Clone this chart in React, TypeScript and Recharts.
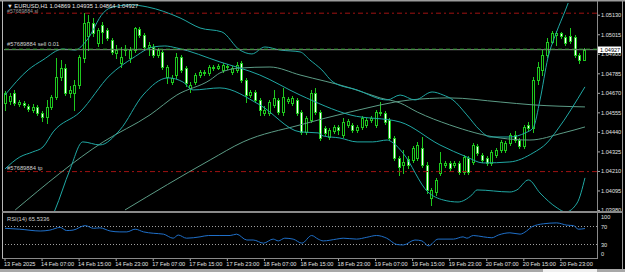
import { ComposedChart, Bar, Line, XAxis, YAxis, ReferenceLine } from "recharts";

// EURUSD H1, bars from 13 Feb 23:00 to 21 Feb 04:00
const opens = [
  1.04613, 1.04625, 1.04672, 1.04607, 1.04613, 1.04596, 1.04572, 1.0459, 1.04554, 1.04531,
  1.0459, 1.04649, 1.04766, 1.04819, 1.04672, 1.04672, 1.04719, 1.04878, 1.05008, 1.05085,
  1.04967, 1.05073, 1.05043, 1.04984, 1.04908, 1.04849, 1.04925, 1.04878, 1.04925, 1.05049,
  1.05014, 1.04943, 1.04943, 1.04896, 1.04914, 1.04766, 1.04737, 1.04778, 1.04884, 1.04819,
  1.04702, 1.04737, 1.04778, 1.04796, 1.0479, 1.04819, 1.04819, 1.04808, 1.04831, 1.04796,
  1.04808, 1.04849, 1.04749, 1.0466, 1.04678, 1.04631, 1.04554, 1.04554, 1.04602, 1.04631,
  1.0456, 1.04625, 1.04613, 1.04631, 1.0456, 1.04443, 1.04513, 1.04672, 1.0456, 1.04466,
  1.04413, 1.04448, 1.04472, 1.04425, 1.04484, 1.04484, 1.04454, 1.04472, 1.04484, 1.04513,
  1.04484, 1.0456, 1.04554, 1.04513, 1.04407, 1.04289, 1.04248, 1.04283, 1.04278, 1.04289,
  1.04348, 1.04248, 1.04054, 1.04089, 1.04201, 1.04248, 1.0426, 1.04248, 1.0426, 1.04207,
  1.04289, 1.04266, 1.0436, 1.04307, 1.04289, 1.0426, 1.04307, 1.04336, 1.04336, 1.04378,
  1.04425, 1.04395, 1.0436, 1.04484, 1.04466, 1.04749, 1.04808, 1.04896, 1.04973, 1.05014,
  1.05026, 1.05002, 1.05008, 1.05002, 1.04896, 1.04869,
];
const highs = [
  1.04684, 1.04672, 1.0469, 1.04631, 1.04625, 1.04607, 1.04607, 1.04602, 1.04566, 1.04631,
  1.0466, 1.04878, 1.04867, 1.04843, 1.04713, 1.04749, 1.04896, 1.05143, 1.05132, 1.05114,
  1.05055, 1.0509, 1.05055, 1.04996, 1.04955, 1.04943, 1.04955, 1.04943, 1.05061, 1.05061,
  1.05026, 1.04973, 1.04961, 1.04937, 1.04925, 1.04837, 1.04778, 1.04908, 1.04896, 1.04831,
  1.04737, 1.0479, 1.04808, 1.04808, 1.04837, 1.04837, 1.04843, 1.04849, 1.04843, 1.04831,
  1.04855, 1.04861, 1.04761, 1.0469, 1.0469, 1.04643, 1.04596, 1.04631, 1.0469, 1.04643,
  1.04702, 1.04649, 1.04655, 1.04643, 1.04572, 1.04537, 1.0469, 1.04702, 1.04572, 1.04478,
  1.04466, 1.04484, 1.04484, 1.04525, 1.04519, 1.04496, 1.04484, 1.04537, 1.04525, 1.04537,
  1.04572, 1.04619, 1.04566, 1.04525, 1.04419, 1.04301, 1.04336, 1.04301, 1.0436, 1.04384,
  1.04413, 1.04266, 1.04113, 1.04172, 1.04325, 1.04272, 1.04272, 1.04272, 1.04272, 1.04307,
  1.04301, 1.04378, 1.04372, 1.04319, 1.04301, 1.04336, 1.04348, 1.04395, 1.0439, 1.04437,
  1.04448, 1.04407, 1.04484, 1.04501, 1.04766, 1.04855, 1.04925, 1.04996, 1.05037, 1.05037,
  1.05032, 1.05014, 1.05055, 1.05014, 1.04908, 1.04935,
];
const lows = [
  1.04572, 1.04607, 1.04602, 1.04596, 1.0459, 1.04566, 1.0456, 1.04543, 1.04507, 1.04496,
  1.04578, 1.04637, 1.04749, 1.0466, 1.04649, 1.04572, 1.04702, 1.04855, 1.04925, 1.05008,
  1.04949, 1.04967, 1.04984, 1.04902, 1.04878, 1.04825, 1.04896, 1.04855, 1.04914, 1.05002,
  1.04931, 1.04896, 1.04884, 1.04884, 1.04814, 1.04731, 1.04725, 1.04761, 1.04796, 1.04713,
  1.04678, 1.04725, 1.04766, 1.04778, 1.04778, 1.04808, 1.04814, 1.04796, 1.04814, 1.04784,
  1.04796, 1.04737, 1.04619, 1.04649, 1.04619, 1.04543, 1.04543, 1.04543, 1.0459, 1.04549,
  1.04543, 1.04613, 1.04602, 1.04543, 1.04431, 1.04431, 1.04501, 1.04549, 1.04395, 1.04425,
  1.04401, 1.04437, 1.04431, 1.04413, 1.04472, 1.04443, 1.04443, 1.0446, 1.04472, 1.04501,
  1.04472, 1.04543, 1.0449, 1.04395, 1.04278, 1.04189, 1.04201, 1.0423, 1.04266, 1.04278,
  1.04236, 1.04083, 1.04013, 1.04071, 1.04189, 1.04236, 1.04219, 1.04236, 1.04195, 1.04195,
  1.04195, 1.04254, 1.04307, 1.04266, 1.04248, 1.04248, 1.04295, 1.04325, 1.04325, 1.04366,
  1.04384, 1.04348, 1.04348, 1.04454, 1.04443, 1.04725, 1.04778, 1.04884, 1.04967, 1.04955,
  1.04996, 1.04955, 1.04967, 1.04884, 1.04849, 1.04864,
];
const closes = [
  1.04672, 1.04655, 1.04613, 1.04619, 1.04602, 1.04578, 1.0459, 1.04554, 1.04531, 1.0459,
  1.04649, 1.04766, 1.04819, 1.04672, 1.0469, 1.04719, 1.04884, 1.05085, 1.0509, 1.05026,
  1.05043, 1.05032, 1.04996, 1.04914, 1.04925, 1.04884, 1.04931, 1.04925, 1.05055, 1.05014,
  1.04943, 1.04955, 1.04896, 1.04925, 1.04825, 1.04825, 1.04761, 1.04884, 1.04808, 1.04731,
  1.04719, 1.04778, 1.04796, 1.0479, 1.04825, 1.04825, 1.04831, 1.04837, 1.04825, 1.04819,
  1.04837, 1.04749, 1.0466, 1.04678, 1.04631, 1.04572, 1.04572, 1.04619, 1.04643, 1.0456,
  1.04649, 1.04637, 1.04643, 1.04554, 1.04443, 1.04525, 1.04672, 1.0456, 1.04407, 1.04437,
  1.04454, 1.04472, 1.04454, 1.04501, 1.04507, 1.04454, 1.04472, 1.04525, 1.04513, 1.04525,
  1.0456, 1.04554, 1.04501, 1.04407, 1.04289, 1.04236, 1.04266, 1.04248, 1.04348, 1.04366,
  1.04248, 1.04101, 1.04101, 1.0416, 1.0426, 1.0426, 1.0423, 1.0426, 1.04207, 1.04295,
  1.04207, 1.04366, 1.04319, 1.04278, 1.0426, 1.04325, 1.04336, 1.04384, 1.04378, 1.04425,
  1.04395, 1.0436, 1.04472, 1.04466, 1.04749, 1.04825, 1.04896, 1.04973, 1.05026, 1.05026,
  1.05008, 1.04967, 1.04979, 1.04896, 1.04867, 1.04927,
];

// indicator lines: [bar index, value]
const bbUpper = [
  [0, 1.0466], [5, 1.04808], [8.2, 1.04867], [12.5, 1.04931], [15.1, 1.04925], [17.7, 1.04984],
  [21.2, 1.05143], [22.7, 1.05173], [27, 1.05191], [30.7, 1.05179], [37.8, 1.05114], [42.1, 1.05055],
  [46.8, 1.05032], [50.7, 1.04925], [53.3, 1.04902], [56.1, 1.04943], [59.4, 1.04925], [63.7, 1.04914],
  [65.8, 1.04867], [68.4, 1.04808], [70.8, 1.04737], [76, 1.0469], [82.5, 1.04631], [85.3, 1.0466],
  [88.5, 1.04631], [92.2, 1.04678], [94.6, 1.0466], [96.7, 1.04631], [99.7, 1.04543], [102.5, 1.04454],
  [104.7, 1.04413], [109, 1.04413], [112.3, 1.04437], [114, 1.04466], [115.5, 1.04631], [117.2, 1.04878],
  [119, 1.05026], [121, 1.05161], [122.5, 1.05267],
];
const bbMiddle = [
  [0, 1.04225], [3.2, 1.04295], [6, 1.04325], [8.2, 1.04354], [10.4, 1.04443], [16.2, 1.0456],
  [22.7, 1.04778], [27.6, 1.04878], [32, 1.04943], [34.5, 1.04949], [37.1, 1.04937], [46.4, 1.04855],
  [55, 1.04778], [63.7, 1.0466], [74.5, 1.04543], [85.3, 1.04501], [93.9, 1.04366], [99.7, 1.04295],
  [103.2, 1.0426], [109, 1.04266], [114, 1.04319], [117, 1.04378], [119.2, 1.04454], [125.2, 1.04708],
];
const bbLower = [
  [7.6, 1.03806], [10.8, 1.03983], [14, 1.04219], [16.8, 1.04384], [20.5, 1.04366], [24.8, 1.04454],
  [29.8, 1.0466], [35.2, 1.04761], [38.4, 1.04737], [40.6, 1.0469], [46.4, 1.04702], [55, 1.04602],
  [63.7, 1.04443], [67.6, 1.04437], [68.7, 1.04419], [72.3, 1.04407], [76, 1.04384], [79.4, 1.04384],
  [82.5, 1.04395], [83.8, 1.04378], [85.9, 1.04319], [91.3, 1.04089], [94.6, 1.04042], [97.8, 1.0403],
  [100.8, 1.04072], [101.9, 1.04101], [109, 1.04089], [110.5, 1.04101], [113, 1.0416], [115.5, 1.04083],
  [119.2, 1.03995], [121, 1.03971], [123.5, 1.04024], [125.2, 1.04172],
];
const maFast = [
  [2.2, 1.03983], [21.2, 1.04384], [31.3, 1.04543], [37.1, 1.0466], [44.3, 1.04749], [46.4, 1.0479],
  [50.7, 1.04819], [57.2, 1.04825], [63.7, 1.04778], [74.5, 1.04702], [81, 1.04643], [85.3, 1.04613],
  [89, 1.0456], [96, 1.04484], [106.9, 1.04407], [113.3, 1.04395], [120.5, 1.04437], [125.2, 1.04472],
];
const maSlow = [
  [25.9, 1.03983], [44.3, 1.04278], [51.4, 1.04384], [63.7, 1.04484], [74.5, 1.0456], [87.4, 1.04631],
  [96, 1.04643], [106.9, 1.04619], [114, 1.04602], [125.2, 1.0459],
];
const rsi = [
  [0, 66], [3.2, 64], [7.6, 60], [9.7, 62], [11.9, 68], [13.3, 61], [14.7, 62], [17.3, 72], [19.1, 66],
  [20.5, 67], [22.7, 60], [24.8, 58], [26.3, 58], [28.1, 64], [29.9, 58], [32, 55], [34.2, 53], [36.3, 44],
  [37.4, 51], [39.2, 44], [42.1, 47], [43.9, 50], [46.4, 50], [48.6, 50], [50, 53], [52.2, 40], [53.6, 40],
  [55.8, 33], [57.9, 42], [59, 38], [60.4, 44], [62.2, 42], [64.1, 33], [66.2, 50], [67.6, 42], [68.7, 38],
  [71.6, 42], [73, 44], [75.9, 42], [78.1, 46], [80.2, 50], [82.4, 44], [84.6, 30], [86, 29], [88.5, 40],
  [90, 38], [91.4, 27], [93.5, 42], [96.8, 42], [98.9, 47], [99.7, 44], [101.1, 50], [103.3, 47], [105.1, 45],
  [106.5, 51], [109, 56], [111.2, 53], [112.6, 60], [113.7, 69], [116.2, 76], [119.1, 78], [121.3, 73],
  [122.7, 72], [123.8, 64], [125.2, 65.5],
];

const priceTicks = [1.0513, 1.05015, 1.049, 1.04785, 1.0467, 1.04555, 1.0444, 1.04325, 1.0421, 1.04095, 1.0398];
const timeTicks = [0, 8, 16, 24, 32, 40, 48, 56, 64, 72, 80, 88, 96, 104, 112, 120];
const timeLabels = [
  "13 Feb 2025", "14 Feb 07:00", "14 Feb 15:00", "14 Feb 23:00", "17 Feb 07:00", "17 Feb 15:00",
  "17 Feb 23:00", "18 Feb 07:00", "18 Feb 15:00", "18 Feb 23:00", "19 Feb 07:00", "19 Feb 15:00",
  "19 Feb 23:00", "20 Feb 07:00", "20 Feb 15:00", "20 Feb 23:00",
];
const bid = 1.04927;
const openPrice = 1.0493;
const stopLoss = 1.05142;
const takeProfit = 1.04209;

const X_DOMAIN = [-0.216, 127.8];
const Y_DOMAIN = [1.03977, 1.05202];
const FONT = "'Liberation Sans', Arial, sans-serif";
const GREEN = "#1ec81e";
const TEAL = "#20a8a4";
const PALE = "#5c9c86";

const candles = opens.map((o, i) => ({
  i, open: o, high: highs[i], low: lows[i], close: closes[i], range: [lows[i], highs[i]],
}));
const pts = (a: number[][]) => a.map(([i, v]) => ({ i, v }));

function Candle(props: any) {
  const { x, y, width, height, payload } = props;
  const cx = Math.round(x + width / 2) + 0.5;
  const top = Math.min(y, y + height);
  const h = Math.abs(height);
  const k = payload.high === payload.low ? 0 : h / (payload.high - payload.low);
  const yo = top + (payload.high - payload.open) * k;
  const yc = top + (payload.high - payload.close) * k;
  const b0 = Math.round(Math.min(yo, yc)) + 0.5;
  const b1 = Math.max(Math.round(Math.max(yo, yc)) + 0.5, b0 + 1);
  const up = payload.close >= payload.open;
  return (
    <g shapeRendering="crispEdges">
      <line x1={cx} x2={cx} y1={Math.round(top)} y2={Math.round(top + h) + 1} stroke={GREEN} />
      <rect x={cx - 1} y={b0} width={2} height={b1 - b0} fill={up ? "#000" : "#fff"} stroke={GREEN} />
    </g>
  );
}

function PriceTick(props: any) {
  const { y, payload } = props;
  return (
    <g>
      <line x1={597} x2={600} y1={y} y2={y} stroke="#aaa" />
      <text x={601} y={y + 2} fontSize={5.6} fill="#e0e0e0" fontFamily={FONT}>
        {payload.value.toFixed(5)}
      </text>
    </g>
  );
}

function RsiTick(props: any) {
  const { y, payload } = props;
  const v = payload.value;
  const dy = v === 100 ? 4 : v === 0 ? -4 : 0;
  return (
    <text x={601} y={y + dy + 2} fontSize={5.6} fill="#e0e0e0" fontFamily={FONT}>
      {v}
    </text>
  );
}

function TimeTick(props: any) {
  const { x, payload } = props;
  const idx = timeTicks.indexOf(payload.value);
  return (
    <g>
      <line x1={x} x2={x} y1={45} y2={48} stroke="#aaa" />
      <text x={x - 1} y={52.5} fontSize={5.6} fill="#e0e0e0" fontFamily={FONT}>
        {timeLabels[idx]}
      </text>
    </g>
  );
}

export default function App() {
  const txt = { fontFamily: FONT, fontSize: 5.8 };
  return (
    <div style={{ position: "absolute", left: 0, top: 0, width: 625, height: 272, background: "#000", overflow: "hidden" }}>
      <div style={{ position: "absolute", left: 0, top: 0 }}>
        <ComposedChart width={625} height={216} data={candles} margin={{ top: 3, right: 0, bottom: 5, left: 4 }}>
          <XAxis type="number" dataKey="i" domain={X_DOMAIN} allowDataOverflow hide />
          <YAxis orientation="right" width={28} domain={Y_DOMAIN} allowDataOverflow ticks={priceTicks}
            axisLine={false} tickLine={false} tick={<PriceTick />} interval={0} />
          <ReferenceLine y={stopLoss} stroke="#a01212" strokeDasharray="5 3 2 3" />
          <ReferenceLine y={takeProfit} stroke="#a01212" strokeDasharray="5 3 2 3" />
          <Line data={pts(maSlow)} dataKey="v" type="monotone" stroke={PALE} dot={false} isAnimationActive={false} />
          <Line data={pts(maFast)} dataKey="v" type="monotone" stroke={PALE} dot={false} isAnimationActive={false} />
          <Line data={pts(bbUpper)} dataKey="v" type="monotone" stroke={TEAL} dot={false} isAnimationActive={false} />
          <Line data={pts(bbMiddle)} dataKey="v" type="monotone" stroke={TEAL} dot={false} isAnimationActive={false} />
          <Line data={pts(bbLower)} dataKey="v" type="monotone" stroke={TEAL} dot={false} isAnimationActive={false} />
          <ReferenceLine y={bid} stroke="#8c8c8c" />
          <ReferenceLine y={openPrice} stroke="#2f9e2f" strokeDasharray="4 3" />
          <Bar dataKey="range" barSize={3} shape={<Candle />} isAnimationActive={false} />
        </ComposedChart>
      </div>
      <div style={{ position: "absolute", left: 0, top: 213 }}>
        <ComposedChart width={625} height={59} data={pts(rsi)} margin={{ top: 0, right: 0, bottom: 0, left: 4 }}>
          <XAxis type="number" dataKey="i" domain={X_DOMAIN} allowDataOverflow ticks={timeTicks} interval={0}
            height={14} axisLine={false} tickLine={false} tick={<TimeTick />} />
          <YAxis orientation="right" width={28} domain={[0, 100]} ticks={[0, 30, 70, 100]} interval={0}
            axisLine={false} tickLine={false} tick={<RsiTick />} />
          <ReferenceLine y={70} stroke="#a0a0a0" strokeDasharray="1 2" />
          <ReferenceLine y={30} stroke="#a0a0a0" strokeDasharray="1 2" />
          <Line dataKey="v" type="monotone" stroke="#1f6fc8" dot={false} isAnimationActive={false} />
        </ComposedChart>
      </div>
      <svg width={625} height={272} style={{ position: "absolute", left: 0, top: 0 }}>
        <rect x={0} y={0} width={625} height={1.5} fill="#9c9c9c" />
        <line x1={2.5} x2={2.5} y1={1} y2={259} stroke="#b8b8b8" />
        <line x1={597.5} x2={597.5} y1={1} y2={259} stroke="#8a8a8a" />
        <line x1={622.5} x2={622.5} y1={0} y2={269} stroke="#9c9c9c" />
        <rect x={2} y={211} width={621} height={2} fill="#8a8a8a" />
        <line x1={2} x2={598} y1={258.5} y2={258.5} stroke="#8a8a8a" />
        <rect x={0} y={269} width={625} height={3} fill="#a8a8a8" />
        <rect x={543} y={269} width={54} height={3} fill="#f0f0f0" />
        <rect x={598} y={46.5} width={23} height={6.5} fill="#fff" />
        <text x={600} y={51.8} fontSize={5.6} fill="#000" fontFamily={FONT}>{bid.toFixed(5)}</text>
        <text x={7} y={7.8} {...txt} fill="#e6e6e6">▼ EURUSD,H1  1.04869 1.04935 1.04864 1.04927</text>
        <text x={7} y={13} fontFamily={FONT} fontSize={5.2} fill="#9a9a9a">#57689884 sl</text>
        <text x={7} y={46} {...txt} fill="#cfcfcf">#57689884 sell 0.01</text>
        <text x={7} y={170} {...txt} fill="#cfcfcf">#57689884 tp</text>
        <text x={7} y={221} {...txt} fill="#cfcfcf">RSI(14) 65.5336</text>
      </svg>
    </div>
  );
}
